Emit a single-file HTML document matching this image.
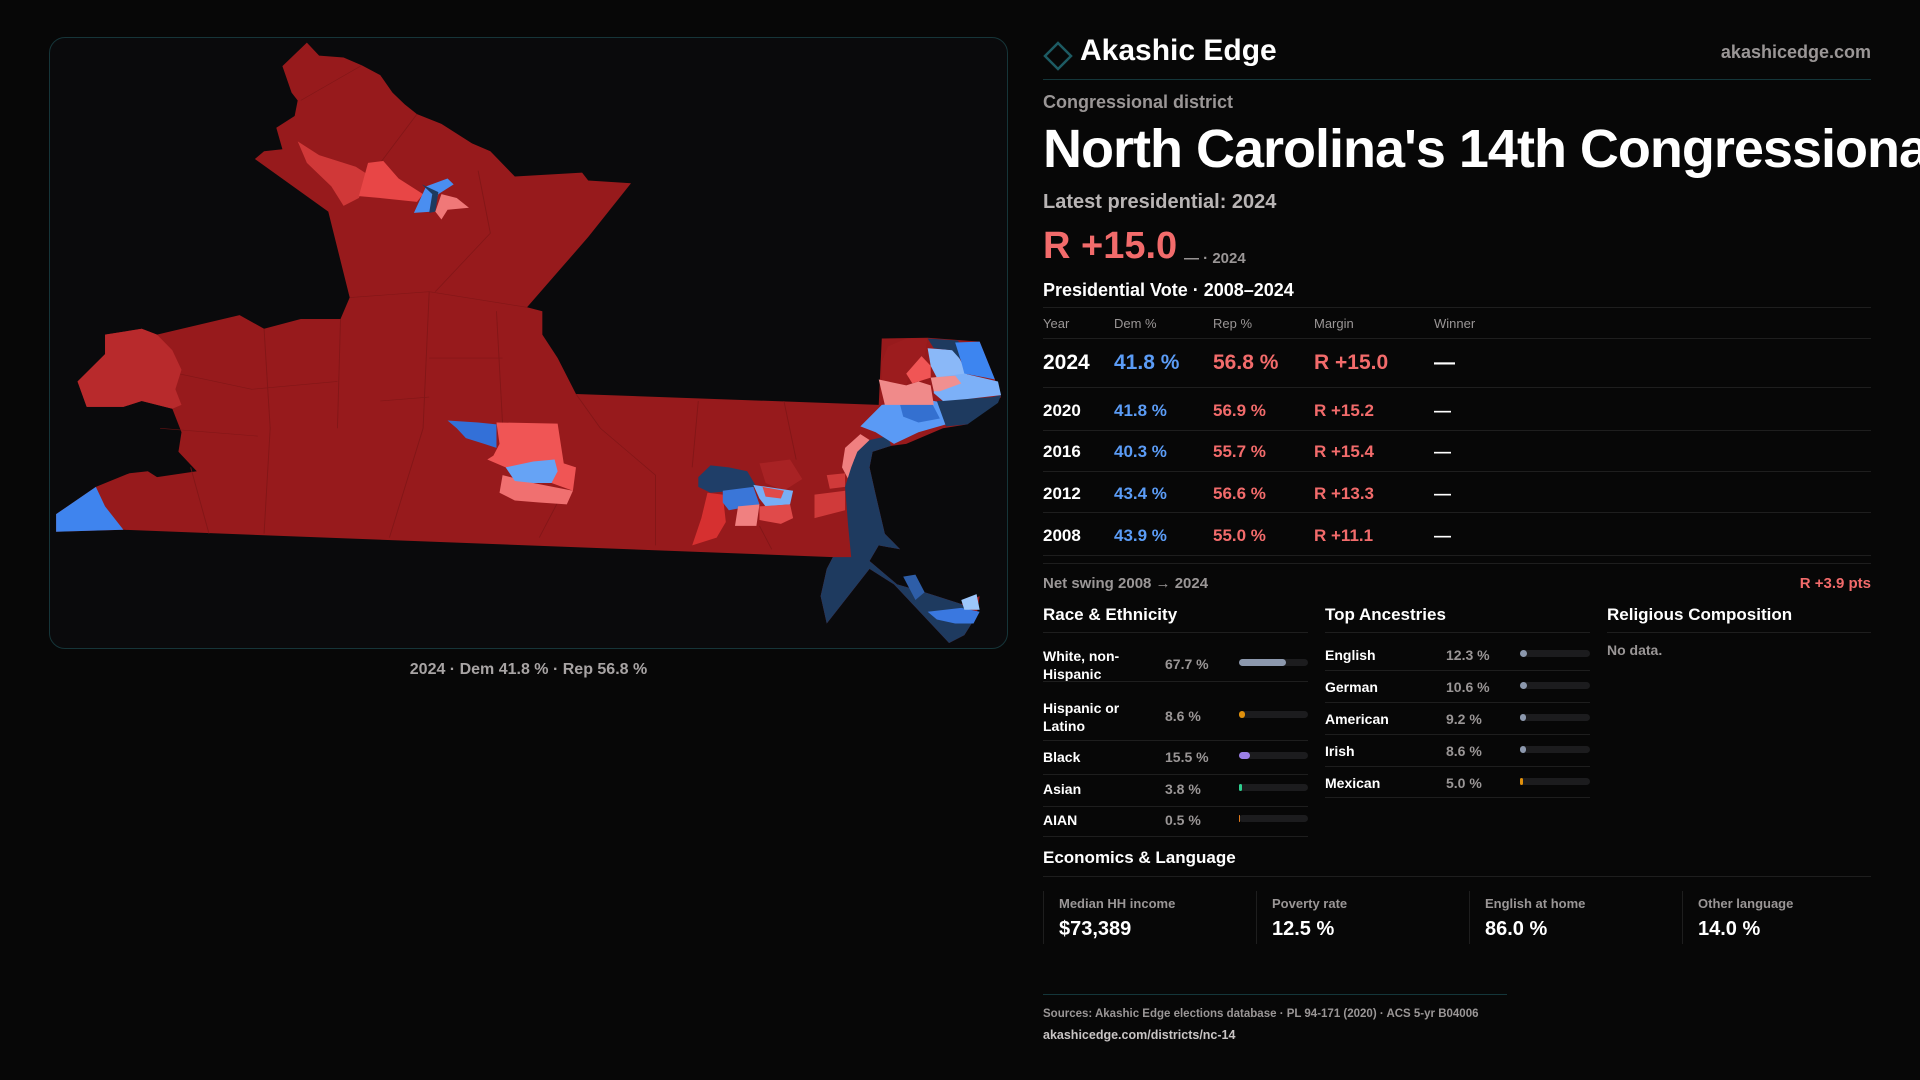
<!DOCTYPE html>
<html><head><meta charset="utf-8"><style>
*{margin:0;padding:0;box-sizing:border-box}
html,body{width:1920px;height:1080px;overflow:hidden;background:#070707;font-family:"Liberation Sans",sans-serif;color:#fff}
.a{position:absolute;white-space:nowrap}
.panel{position:absolute;left:49px;top:37px;width:959px;height:612px;border:1px solid #163539;border-radius:16px;background:#0a0a0c;overflow:hidden}
.g{color:#9a9696}
.hl{position:absolute;height:1px;background:#1e1e1e}
.red{color:#f26b6b}.blue{color:#5b9cf6}
.bar{position:absolute;height:7px;border-radius:4px;background:#1c1c1e}
.bar i{position:absolute;left:0;top:0;height:7px;border-radius:4px}
.clip{position:absolute;left:0;top:0;width:1920px;height:1080px;overflow:hidden}
</style></head><body><div class="clip">
<div class="panel">
<svg width="959" height="612" viewBox="0 0 1568 1568" preserveAspectRatio="none" style="position:absolute;left:0;top:0">
<path fill="#971a1c" d="M420,12 440,45 480,50 510,70 540,95 560,140 580,170 600,195 640,220 690,270 720,290 760,355 870,345 880,365 950,372 880,510 830,600 780,690 805,700 805,760 830,820 860,912 1355,940 1360,770 1435,768 1520,778 1545,875 1555,920 1500,990 1460,1000 1400,1040 1375,1045 1345,1060 1340,1100 1350,1170 1365,1270 1390,1310 1355,1300 1340,1340 1385,1400 1430,1420 1490,1450 1520,1430 1515,1480 1495,1530 1470,1550 1380,1400 1340,1360 1270,1500 1260,1430 1270,1360 1280,1330 120,1260 10,1265 10,1220 75,1150 130,1115 160,1110 175,1125 240,1110 210,1060 215,1010 200,950 150,930 120,945 60,945 45,880 90,810 90,760 150,745 175,760 310,710 350,745 410,720 475,720 490,665 455,445 335,310 350,290 380,285 370,230 400,200 405,160 395,140 380,72Z"/>
<g fill="none" stroke="#7d1517" stroke-width="1.5" opacity=".8">
<path d="M490,665 620,650 780,690 M620,650 610,1000 555,1280 M350,745 360,1000 350,1270 M475,720 470,1000 M210,860 330,900 470,880 M730,700 740,990 M860,912 900,1000 990,1120 990,1300 M1060,930 1050,1100 M1200,930 1220,1080 M620,820 740,820 M540,930 620,920 M180,1000 340,1020 M600,195 540,320 M700,340 720,500 630,650 M510,70 410,160 M230,1100 260,1270 M830,1190 800,1280 M1160,1250 1180,1310"/>
</g>
<path fill="#b82a2c" d="M45,880 90,810 90,760 150,745 175,760 200,800 215,850 205,900 215,940 200,950 150,930 120,945 60,945Z"/>
<path fill="#3f84ee" d="M10,1220 75,1150 90,1200 120,1260 10,1265Z"/>
<path fill="#d03838" d="M405,265 440,300 500,330 520,350 505,410 480,430 460,380 420,320Z"/>
<path fill="#e84646" d="M520,320 545,315 570,360 610,400 600,420 540,410 505,405Z"/>
<path fill="#4a8ef0" d="M615,380 650,360 660,375 635,400 625,445 595,448Z"/>
<path fill="#1e3a5f" d="M608,375 635,395 630,445 620,448 625,400Z"/>
<path fill="#f07878" d="M640,400 665,410 685,435 650,440 640,465 630,445Z"/>
<path fill="#3370d8" d="M650,980 700,985 730,990 730,1050 710,1040 680,1025 665,1000Z"/>
<path fill="#f05555" d="M730,985 830,988 840,1090 860,1100 855,1160 820,1140 780,1130 745,1100 715,1080 725,1070 735,1040Z"/>
<path fill="#f07070" d="M740,1120 790,1140 855,1160 845,1195 800,1190 760,1185 735,1165Z"/>
<path fill="#66a3f5" d="M745,1100 790,1085 825,1080 830,1110 820,1140 790,1140 760,1135Z"/>
<path fill="#d63030" d="M1075,1165 1100,1170 1105,1240 1090,1280 1050,1300 1065,1230Z"/>
<path fill="#a82224" d="M1160,1090 1210,1080 1230,1130 1200,1160 1170,1140Z"/>
<path fill="#1f3e68" d="M1060,1125 1080,1095 1110,1100 1140,1110 1155,1150 1120,1160 1080,1165 1060,1150Z"/>
<path fill="#3a76d8" d="M1100,1160 1150,1150 1160,1195 1110,1210 1100,1190Z"/>
<path fill="#78aef5" d="M1150,1145 1215,1160 1210,1195 1170,1200 1160,1180Z"/>
<path fill="#e04a4a" d="M1165,1150 1200,1160 1195,1180 1170,1175Z"/>
<path fill="#f08080" d="M1125,1200 1160,1195 1155,1250 1120,1250Z"/>
<path fill="#e04a4a" d="M1160,1200 1210,1195 1215,1230 1195,1245 1160,1235Z"/>
<path fill="#d03a3a" d="M1250,1170 1300,1160 1300,1210 1250,1230Z M1270,1120 1300,1115 1300,1150 1275,1155Z"/>
<path fill="#f08080" d="M1300,1050 1325,1015 1340,1030 1315,1080 1305,1130 1295,1100Z"/>
<path fill="#1e3a5f" d="M1340,1030 1370,1020 1375,1045 1345,1060 1340,1100 1350,1170 1365,1270 1390,1310 1355,1300 1340,1340 1385,1400 1430,1420 1490,1450 1515,1480 1495,1530 1470,1550 1380,1400 1340,1360 1270,1500 1260,1430 1270,1360 1280,1330 1310,1330 1305,1250 1300,1150 1310,1100 1320,1060Z"/>
<path fill="#2e5ea8" d="M1395,1380 1415,1375 1430,1420 1415,1440Z"/>
<path fill="#3a78e0" d="M1435,1470 1490,1460 1520,1470 1510,1500 1480,1500 1450,1490Z"/>
<path fill="#9cc6fb" d="M1490,1440 1515,1425 1520,1465 1495,1465Z"/>
<path fill="#5a9af5" d="M1325,995 1360,940 1390,935 1430,925 1460,935 1465,990 1420,1010 1380,1040 1370,1030 1350,1010Z"/>
<path fill="#3470d0" d="M1390,940 1440,930 1455,975 1420,985 1395,970Z"/>
<path fill="#1e3a5f" d="M1450,930 1540,920 1555,915 1550,935 1500,990 1465,995Z"/>
<path fill="#9c1c1e" d="M1370,790 1400,770 1435,770 1430,815 1405,860 1400,890 1360,880 1360,830Z"/>
<path fill="#f08a8a" d="M1355,875 1400,890 1420,880 1440,890 1445,940 1390,940 1365,940Z"/>
<path fill="#f05555" d="M1400,860 1425,815 1440,840 1440,870 1410,885Z"/>
<path fill="#8ab8f8" d="M1435,795 1480,800 1490,830 1500,865 1450,870 1440,840Z"/>
<path fill="#1e3a5f" d="M1435,770 1485,775 1495,835 1475,800 1445,795Z"/>
<path fill="#3d85f0" d="M1480,780 1520,778 1545,875 1530,870 1495,860 1490,830Z"/>
<path fill="#7cb0f8" d="M1445,870 1495,860 1550,880 1555,915 1500,925 1460,930 1445,910Z"/>
<path fill="#f09090" d="M1440,870 1480,865 1490,885 1455,905 1445,905Z"/>
</svg>
</div>
<div class="a g" style="left:0;width:1057px;text-align:center;top:661px;font-size:16px;font-weight:bold;color:#a8a4a4">2024 · Dem 41.8 % · Rep 56.8 %</div>

<svg class="a" style="left:1043px;top:41px" width="30" height="30" viewBox="0 0 30 30"><path d="M15,2 28,15 15,28 2,15Z" fill="none" stroke="#1d5b63" stroke-width="2.5"/></svg>
<div class="a" style="left:1080px;top:34px;font-size:30px;font-weight:bold">Akashic Edge</div>
<div class="a g" style="right:49px;top:42px;font-size:18px;font-weight:bold">akashicedge.com</div>
<div class="hl" style="left:1043px;width:828px;top:79px;background:#14363a"></div>
<div class="a g" style="left:1043px;top:92px;font-size:18px;font-weight:bold">Congressional district</div>
<div class="a" style="left:1043px;top:118px;font-size:54px;font-weight:bold;letter-spacing:-1px">North Carolina's 14th Congressional District</div>
<div class="a" style="left:1043px;top:191px;font-size:20px;font-weight:bold;color:#b8b4b4">Latest presidential: 2024</div>
<div class="a red" style="left:1043px;top:225px;font-size:38px;font-weight:bold">R +15.0</div>
<div class="a g" style="left:1184px;top:250px;font-size:15px;font-weight:bold">— · 2024</div>
<div class="a" style="left:1043px;top:280px;font-size:18px;font-weight:bold">Presidential Vote · 2008–2024</div>
<div class="hl" style="left:1043px;width:828px;top:307px"></div>
<div class="a g" style="left:1043px;top:316px;font-size:13px">Year</div>
<div class="a g" style="left:1114px;top:316px;font-size:13px">Dem %</div>
<div class="a g" style="left:1213px;top:316px;font-size:13px">Rep %</div>
<div class="a g" style="left:1314px;top:316px;font-size:13px">Margin</div>
<div class="a g" style="left:1434px;top:316px;font-size:13px">Winner</div>
<div class="hl" style="left:1043px;width:828px;top:338px"></div>
<div style="position:absolute;left:1043px;top:351px;font-size:21px;font-weight:bold">
<span class="a" style="left:0">2024</span><span class="a blue" style="left:71px">41.8 %</span><span class="a red" style="left:170px">56.8 %</span><span class="a red" style="left:271px">R +15.0</span><span class="a" style="left:391px">—</span></div>
<div class="hl" style="left:1043px;width:828px;top:387px"></div>
<div style="position:absolute;left:1043px;top:401px;font-size:17px;font-weight:bold">
<span class="a" style="left:0">2020</span><span class="a blue" style="left:71px">41.8 %</span><span class="a red" style="left:170px">56.9 %</span><span class="a red" style="left:271px">R +15.2</span><span class="a" style="left:391px">—</span></div>
<div class="hl" style="left:1043px;width:828px;top:430px"></div>
<div style="position:absolute;left:1043px;top:442px;font-size:17px;font-weight:bold">
<span class="a" style="left:0">2016</span><span class="a blue" style="left:71px">40.3 %</span><span class="a red" style="left:170px">55.7 %</span><span class="a red" style="left:271px">R +15.4</span><span class="a" style="left:391px">—</span></div>
<div class="hl" style="left:1043px;width:828px;top:471px"></div>
<div style="position:absolute;left:1043px;top:484px;font-size:17px;font-weight:bold">
<span class="a" style="left:0">2012</span><span class="a blue" style="left:71px">43.4 %</span><span class="a red" style="left:170px">56.6 %</span><span class="a red" style="left:271px">R +13.3</span><span class="a" style="left:391px">—</span></div>
<div class="hl" style="left:1043px;width:828px;top:512px"></div>
<div style="position:absolute;left:1043px;top:526px;font-size:17px;font-weight:bold">
<span class="a" style="left:0">2008</span><span class="a blue" style="left:71px">43.9 %</span><span class="a red" style="left:170px">55.0 %</span><span class="a red" style="left:271px">R +11.1</span><span class="a" style="left:391px">—</span></div>
<div class="hl" style="left:1043px;width:828px;top:555px"></div>
<div class="hl" style="left:1043px;width:828px;top:563px"></div>
<div class="a g" style="left:1043px;top:575px;font-size:15px;font-weight:bold">Net swing 2008 → 2024</div>
<div class="a red" style="right:49px;top:575px;font-size:15px;font-weight:bold">R +3.9 pts</div>

<div class="a" style="left:1043px;top:605px;font-size:17px;font-weight:bold">Race &amp; Ethnicity</div>
<div class="a" style="left:1325px;top:605px;font-size:17px;font-weight:bold">Top Ancestries</div>
<div class="a" style="left:1607px;top:605px;font-size:17px;font-weight:bold">Religious Composition</div>
<div class="hl" style="left:1043px;width:265px;top:632px"></div>
<div class="hl" style="left:1325px;width:265px;top:632px"></div>
<div class="hl" style="left:1607px;width:264px;top:632px"></div>
<div class="a g" style="left:1607px;top:642px;font-size:14px;font-weight:bold">No data.</div>

<div style="position:absolute;left:1043px;top:2px;font-size:14px;font-weight:bold">
<div class="a" style="left:0;top:645px;line-height:18px">White, non-<br>Hispanic</div><div class="a g" style="left:122px;top:654px">67.7 %</div><div class="bar" style="left:196px;top:657px;width:69px"><i style="width:47px;background:#8c98ad"></i></div>
<div class="hl" style="left:0;width:265px;top:679px"></div>
<div class="a" style="left:0;top:697px;line-height:18px">Hispanic or<br>Latino</div><div class="a g" style="left:122px;top:706px">8.6 %</div><div class="bar" style="left:196px;top:709px;width:69px"><i style="width:6px;background:#e0900c"></i></div>
<div class="hl" style="left:0;width:265px;top:738px"></div>
<div class="a" style="left:0;top:747px">Black</div><div class="a g" style="left:122px;top:747px">15.5 %</div><div class="bar" style="left:196px;top:750px;width:69px"><i style="width:11px;background:#9b7fe6"></i></div>
<div class="hl" style="left:0;width:265px;top:772px"></div>
<div class="a" style="left:0;top:779px">Asian</div><div class="a g" style="left:122px;top:779px">3.8 %</div><div class="bar" style="left:196px;top:782px;width:69px"><i style="width:3px;background:#2fcf8f"></i></div>
<div class="hl" style="left:0;width:265px;top:804px"></div>
<div class="a" style="left:0;top:810px">AIAN</div><div class="a g" style="left:122px;top:810px">0.5 %</div><div class="bar" style="left:196px;top:813px;width:69px"><i style="width:1px;background:#e07a1c"></i></div>
<div class="hl" style="left:0;width:265px;top:834px"></div>
</div>

<div style="position:absolute;left:1325px;top:2px;font-size:14px;font-weight:bold">
<div class="a" style="left:0;top:645px">English</div><div class="a g" style="left:121px;top:645px">12.3 %</div><div class="bar" style="left:195px;top:648px;width:70px"><i style="width:7px;background:#8c98ad"></i></div>
<div class="hl" style="left:0;width:265px;top:668px"></div>
<div class="a" style="left:0;top:677px">German</div><div class="a g" style="left:121px;top:677px">10.6 %</div><div class="bar" style="left:195px;top:680px;width:70px"><i style="width:7px;background:#8c98ad"></i></div>
<div class="hl" style="left:0;width:265px;top:700px"></div>
<div class="a" style="left:0;top:709px">American</div><div class="a g" style="left:121px;top:709px">9.2 %</div><div class="bar" style="left:195px;top:712px;width:70px"><i style="width:6px;background:#8c98ad"></i></div>
<div class="hl" style="left:0;width:265px;top:732px"></div>
<div class="a" style="left:0;top:741px">Irish</div><div class="a g" style="left:121px;top:741px">8.6 %</div><div class="bar" style="left:195px;top:744px;width:70px"><i style="width:6px;background:#8c98ad"></i></div>
<div class="hl" style="left:0;width:265px;top:764px"></div>
<div class="a" style="left:0;top:773px">Mexican</div><div class="a g" style="left:121px;top:773px">5.0 %</div><div class="bar" style="left:195px;top:776px;width:70px"><i style="width:3px;background:#e0900c"></i></div>
<div class="hl" style="left:0;width:265px;top:795px"></div>
</div>

<div class="a" style="left:1043px;top:848px;font-size:17px;font-weight:bold">Economics &amp; Language</div>
<div class="hl" style="left:1043px;width:828px;top:876px"></div>
<div style="position:absolute;left:1043px;top:891px;width:828px;height:53px">
<div class="a" style="left:0;top:0;width:1px;height:53px;background:#1e1e1e"></div>
<div class="a" style="left:213px;top:0;width:1px;height:53px;background:#1e1e1e"></div>
<div class="a" style="left:426px;top:0;width:1px;height:53px;background:#1e1e1e"></div>
<div class="a" style="left:639px;top:0;width:1px;height:53px;background:#1e1e1e"></div>
<div class="a g" style="left:16px;top:5px;font-size:13px;font-weight:bold">Median HH income</div>
<div class="a" style="left:16px;top:27px;font-size:20px;font-weight:bold">$73,389</div>
<div class="a g" style="left:229px;top:5px;font-size:13px;font-weight:bold">Poverty rate</div>
<div class="a" style="left:229px;top:27px;font-size:20px;font-weight:bold">12.5 %</div>
<div class="a g" style="left:442px;top:5px;font-size:13px;font-weight:bold">English at home</div>
<div class="a" style="left:442px;top:27px;font-size:20px;font-weight:bold">86.0 %</div>
<div class="a g" style="left:655px;top:5px;font-size:13px;font-weight:bold">Other language</div>
<div class="a" style="left:655px;top:27px;font-size:20px;font-weight:bold">14.0 %</div>
</div>
<div class="hl" style="left:1043px;width:464px;top:994px;background:#14363a"></div>
<div class="a g" style="left:1043px;top:1008px;font-size:11.5px;font-weight:bold">Sources: Akashic Edge elections database · PL 94-171 (2020) · ACS 5-yr B04006</div>
<div class="a" style="left:1043px;top:1028px;font-size:12.5px;font-weight:bold;color:#c8c4c4">akashicedge.com/districts/nc-14</div>
</div></body></html>
